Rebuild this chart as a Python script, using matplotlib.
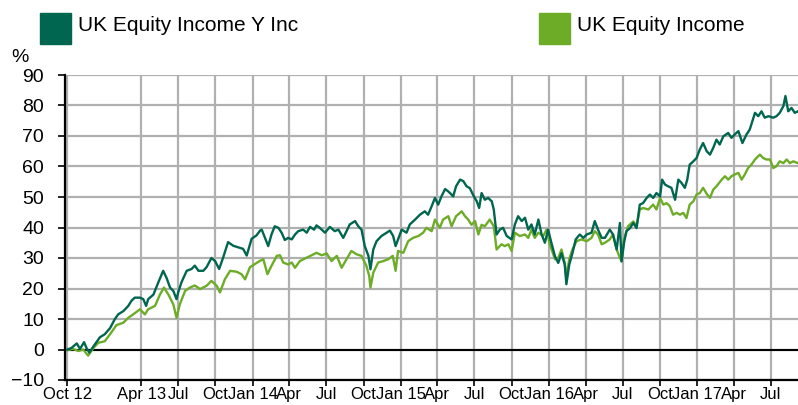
#!/usr/bin/env python3
import matplotlib
matplotlib.use('Agg')
import matplotlib.pyplot as plt
from matplotlib.patches import Rectangle
import pandas as pd

plt.rcParams['font.family'] = ['Liberation Sans', 'DejaVu Sans']

START = pd.Timestamp('2012-10-01')

# UK Equity Income Y Inc: days since 1 Oct 2012, cumulative % return
fund_days = [0, 10, 23, 31, 41, 47, 54, 64, 80, 92, 105, 117, 125, 138, 150, 158, 166, 179, 187, 194,
             199, 212, 224, 236, 244, 253, 261, 269, 273, 281, 294, 306, 314, 323, 335, 343, 355, 364, 374, 384,
             396, 409, 421, 433, 442, 454, 466, 475, 479, 487, 495, 503, 511, 520, 528, 536, 544, 553, 561, 569,
             581, 590, 598, 608, 614, 622, 635, 647, 659, 668, 680, 696, 709, 717, 725, 733, 742, 747, 754, 762,
             774, 787, 795, 803, 809, 815, 824, 836, 844, 857, 869, 881, 889, 898, 906, 914, 922, 931, 939, 943,
             951, 958, 968, 976, 984, 992, 1000, 1009, 1015, 1021, 1029, 1037, 1046, 1051, 1058, 1066, 1074, 1083, 1095, 1103,
             1111, 1120, 1128, 1136, 1144, 1152, 1161, 1169, 1177, 1185, 1193, 1202, 1210, 1218, 1226, 1230, 1237, 1245, 1253, 1263,
             1272, 1280, 1292, 1300, 1308, 1317, 1325, 1337, 1345, 1354, 1362, 1366, 1372, 1378, 1387, 1395, 1403, 1411, 1419, 1428,
             1436, 1444, 1452, 1461, 1466, 1473, 1481, 1489, 1498, 1506, 1514, 1522, 1528, 1534, 1543, 1551, 1559, 1567, 1576, 1584,
             1592, 1600, 1608, 1617, 1629, 1637, 1645, 1654, 1664, 1674, 1682, 1695, 1703, 1711, 1719, 1728, 1740, 1748, 1756, 1765,
             1770, 1777, 1785, 1793, 1801]
fund_pct = [0, 0.5, 2, 0.2, 2.4, 0.5, -1, 1, 4, 5, 7, 10, 11.5, 12.6, 14.3, 16, 17, 17, 16.5, 14.3,
            16.5, 18, 22, 25.8, 23.6, 20.3, 19.2, 16.5, 18.7, 22, 25.8, 26.4, 27.5, 25.8, 25.8, 27, 30, 29, 26.4, 30.2,
            35.2, 34, 33.5, 33, 30.8, 36.3, 37.4, 39, 39.3, 36.6, 33.9, 37.7, 40.4, 39.9, 38.3, 35.9, 36.6, 36.1, 37.7, 38.8,
            39.3, 38.3, 40.2, 39.3, 40.7, 39.9, 38.3, 40.2, 38.8, 39.3, 36.6, 41, 42.1, 40.4, 39.3, 33.9, 30.7, 26.3, 32.8, 35.5,
            37.2, 38.3, 39, 37.2, 33.9, 36.1, 39.3, 38.3, 41, 42.6, 44.2, 45.3, 44.2, 47, 49.7, 47.5, 50.2, 52.6, 51.8, 51.3,
            50.2, 53.5, 55.7, 55.2, 53.5, 52.9, 50.7, 48.6, 46.4, 51.3, 49.1, 49.7, 48.6, 45.9, 37.7, 39.3, 39.9, 37.2, 36.1, 41,
            43.7, 42.1, 43.2, 39.3, 41, 37.7, 42.6, 37.7, 35, 39.3, 35, 30.5, 28.4, 31.6, 27.8, 21.4, 27.8, 31.6, 36.1, 37.7,
            36.6, 37.7, 38.3, 42.1, 39.3, 36.6, 36.6, 39.3, 37.7, 32.8, 41.5, 28.9, 34.9, 38.8, 39.8, 41.5, 39.8, 47.5, 48, 49.7,
            50.8, 49.7, 51.3, 50.2, 55.7, 54.1, 53.5, 53, 49.1, 55.7, 54.6, 53, 55.7, 60.6, 61.7, 62.8, 65.6, 67.7, 65, 63.9,
            66.1, 68.8, 67.2, 69.9, 71, 69.4, 70.5, 71.6, 67.7, 70.5, 72.1, 77.6, 76.5, 78.1, 76, 76.5, 76, 76.5, 77.6, 79.8,
            83.1, 78.1, 79.2, 77.6, 78.1]

# UK Equity Income (sector)
sector_days = [0, 14, 27, 39, 51, 64, 76, 92, 105, 121, 138, 150, 162, 179, 191, 199, 216, 228, 238, 249,
               261, 269, 277, 290, 302, 314, 327, 343, 355, 368, 376, 388, 401, 417, 429, 438, 450, 462, 475, 483,
               493, 503, 516, 524, 532, 544, 553, 561, 573, 590, 602, 614, 627, 639, 651, 664, 676, 688, 700, 713,
               725, 737, 744, 747, 754, 766, 779, 791, 802, 809, 815, 828, 840, 852, 865, 877, 885, 898, 906, 918,
               926, 939, 947, 958, 972, 980, 988, 996, 1005, 1013, 1021, 1029, 1041, 1051, 1058, 1070, 1078, 1087, 1095, 1103,
               1115, 1128, 1136, 1144, 1152, 1161, 1173, 1181, 1189, 1202, 1210, 1218, 1226, 1230, 1237, 1245, 1255, 1267, 1280, 1292,
               1300, 1308, 1317, 1325, 1337, 1345, 1354, 1360, 1366, 1372, 1382, 1395, 1403, 1411, 1419, 1432, 1444, 1452, 1461, 1469,
               1477, 1485, 1493, 1502, 1510, 1518, 1526, 1534, 1543, 1551, 1559, 1567, 1577, 1584, 1592, 1600, 1613, 1621, 1629, 1637,
               1645, 1654, 1662, 1670, 1678, 1686, 1695, 1707, 1715, 1723, 1732, 1740, 1748, 1756, 1765, 1773, 1781, 1789, 1801]
sector_pct = [-0.2, 0.2, -0.5, 0, -2, 0.5, 2.2, 2.7, 5, 8, 8.8, 10.4, 11.5, 13.2, 11.5, 13.2, 14.3, 18, 20.3, 18,
              14.8, 10.4, 14.8, 19.2, 20.3, 21, 19.8, 20.9, 22.5, 20.9, 18.7, 23, 25.8, 25.5, 24.7, 23, 27, 28, 29.1, 29.6,
              24.7, 27.4, 30.7, 30.9, 28.5, 27.9, 28.5, 26.8, 29, 30.1, 30.9, 31.7, 30.9, 31.5, 29, 30.7, 26.8, 29.6, 32.3, 31.2,
              30.7, 27.4, 24.1, 20.3, 25.2, 28.5, 29, 29.6, 30.7, 25.8, 32.3, 31.7, 35.5, 36.6, 37.2, 38.3, 39.9, 38.8, 42.6, 39.9,
              42.6, 43.7, 40.4, 43.7, 45.3, 43.7, 42.6, 40.9, 42.1, 37.7, 40.9, 40.4, 42.6, 40.4, 32.8, 34.5, 33.9, 34.5, 32.3, 38.3,
              37.2, 37.7, 36.6, 39.3, 36.6, 38.3, 37.2, 39.3, 34.5, 29.6, 30.1, 32.8, 28.4, 23.6, 29.6, 32.8, 35.5, 36.1, 35.5, 36.6,
              38.8, 37.7, 34.5, 35, 36.1, 37.7, 32.8, 30.7, 28.9, 36, 40.4, 42, 40.4, 45.9, 46.4, 45.9, 47.5, 45.9, 49.7, 47.5,
              48, 47, 44.2, 44.8, 44.2, 44.8, 43.1, 47.5, 48.6, 50.8, 51.3, 53, 50.8, 49.7, 52.4, 53.5, 55.7, 56.8, 55.7, 56.8,
              57.4, 57.9, 55.7, 57.4, 59.5, 60.6, 62.3, 63.9, 62.8, 62.3, 62.3, 59.5, 60.1, 61.7, 61.1, 62.3, 61.1, 61.7, 61.1]

tick_dates = ['2012-10-01', '2013-04-01', '2013-07-01', '2013-10-01', '2014-01-01', '2014-04-01',
              '2014-07-01', '2014-10-01', '2015-01-01', '2015-04-01', '2015-07-01', '2015-10-01',
              '2016-01-01', '2016-04-01', '2016-07-01', '2016-10-01', '2017-01-01', '2017-04-01', '2017-07-01']
tick_labels = ['Oct 12', 'Apr 13', 'Jul', 'Oct', 'Jan 14', 'Apr', 'Jul', 'Oct', 'Jan 15', 'Apr',
               'Jul', 'Oct', 'Jan 16', 'Apr', 'Jul', 'Oct', 'Jan 17', 'Apr', 'Jul']

DARK = '#00664f'
LIGHT = '#6cac27'
GRID = '#b0b0b0'

W, H = 798, 405
fig = plt.figure(figsize=(W / 100, H / 100), dpi=100)
ax = fig.add_axes([65 / W, 25 / H, (W - 65) / W, 305 / H])

fund_x = START + pd.to_timedelta(fund_days, unit='D')
sector_x = START + pd.to_timedelta(sector_days, unit='D')

ax.plot(sector_x, sector_pct, color=LIGHT, lw=1.7, zorder=3)
ax.plot(fund_x, fund_pct, color=DARK, lw=1.7, zorder=4)
ax.axhline(0, color='black', lw=1.5, zorder=2.6)

ax.set_ylim(-10, 90)
ax.set_yticks(range(-10, 91, 10))
ax.set_xlim(START - pd.Timedelta(days=6), START + pd.Timedelta(days=1801))
ax.set_xticks(pd.to_datetime(tick_dates))
ax.set_xticklabels(tick_labels)

ax.set_axisbelow(True)
ax.grid(True, color=GRID, lw=1.6)
for side in ['top', 'right']:
    ax.spines[side].set_visible(False)
for side in ['left', 'bottom']:
    ax.spines[side].set_linewidth(1.6)
    ax.spines[side].set_color('black')

ax.tick_params(axis='y', direction='out', length=5, width=1.2, pad=10, labelsize=14)
ax.tick_params(axis='x', direction='out', length=4, width=1.2, pad=1, labelsize=12)

fig.text(11 / W, 1 - 62 / H, '%', fontsize=14, ha='left', va='baseline')

# legend squares and labels
fig.patches.append(Rectangle((40 / W, 1 - 44 / H), 31 / W, 31 / H, transform=fig.transFigure,
                             color=DARK, figure=fig))
fig.text(78 / W, 1 - 31 / H, 'UK Equity Income Y Inc', fontsize=15, ha='left', va='baseline')
fig.patches.append(Rectangle((539 / W, 1 - 44 / H), 31 / W, 31 / H, transform=fig.transFigure,
                             color=LIGHT, figure=fig))
fig.text(577 / W, 1 - 31 / H, 'UK Equity Income', fontsize=15, ha='left', va='baseline')

fig.savefig('out.png', dpi=100)
